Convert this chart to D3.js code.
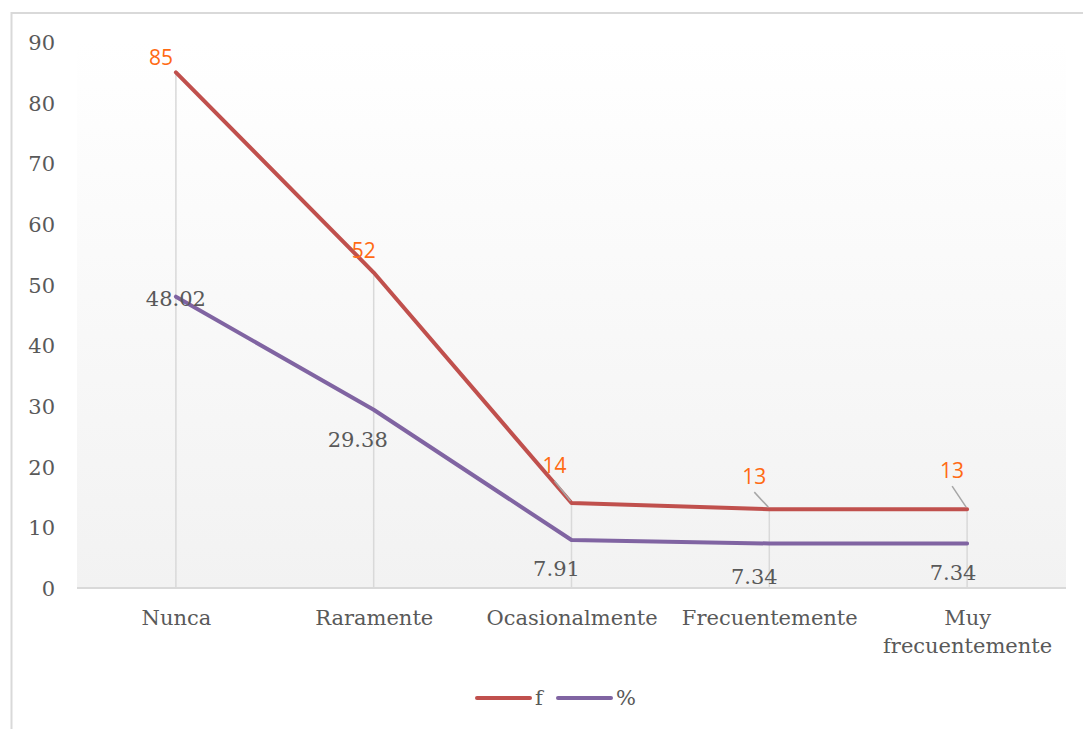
<!DOCTYPE html>
<html>
<head>
<meta charset="utf-8">
<script src="https://cdn.jsdelivr.net/npm/d3@7"></script>
<style>
html,body{margin:0;padding:0;background:#fff;}
svg{display:block;}
</style>
</head>
<body>
<svg id="chart" width="1083" height="729"></svg>
<script>
// ---- data ----
const categories = ["Nunca", "Raramente", "Ocasionalmente", "Frecuentemente", "Muy frecuentemente"];
const fValues = [85, 52, 14, 13, 13];
const pctValues = [48.02, 29.38, 7.91, 7.34, 7.34];
const yTicks = [0, 10, 20, 30, 40, 50, 60, 70, 80, 90];
const seriesNames = ["f", "%"];

// ---- layout (label offsets from point, in px) ----
const fLabelOffsets = [[-15, -15], [-10, -22], [-17, -37], [-15, -32], [-15, -38]];
const fLeader = [false, false, true, true, true];
const pctLabelOffsets = [[0, 2], [-16, 30], [-15, 29], [-15, 33], [-14, 29]];

const svg = d3.select("#chart");
const W = 1083, H = 729;
const plot = {left: 77, right: 1066, top: 42, bottom: 588};

const defs = svg.append("defs");
const grad = defs.append("linearGradient").attr("id", "bg").attr("x1", 0).attr("y1", 0).attr("x2", 0).attr("y2", 1);
grad.append("stop").attr("offset", "0%").attr("stop-color", "#ffffff");
grad.append("stop").attr("offset", "100%").attr("stop-color", "#f2f2f2");

// chart border
svg.append("rect").attr("x", 11.5).attr("y", 13).attr("width", W + 20).attr("height", H + 20)
  .attr("fill", "#fff").attr("stroke", "#d9d9d9").attr("stroke-width", 2);

// plot background
svg.append("rect").attr("x", plot.left).attr("y", plot.top)
  .attr("width", plot.right - plot.left).attr("height", plot.bottom - plot.top)
  .attr("fill", "url(#bg)");

const x = d3.scalePoint().domain(categories).range([plot.left, plot.right]).padding(0.5);
const y = d3.scaleLinear().domain([0, 90]).range([plot.bottom, plot.top]);

const serif = "'DejaVu Serif', serif";
const sans = "'Open Sans', sans-serif";
const textColor = "#595959";

// y axis labels
const yAxis = d3.axisLeft(y).tickValues(yTicks).tickSize(0).tickPadding(0);
const yG = svg.append("g").attr("transform", "translate(55,0)").call(yAxis);
yG.select(".domain").remove();
yG.selectAll("text").attr("font-family", serif).attr("font-size", 21).attr("fill", textColor)
  .attr("dy", "0.35em");

// drop lines
svg.append("g").selectAll("line").data(categories).join("line")
  .attr("x1", d => x(d)).attr("x2", d => x(d))
  .attr("y1", (d, i) => y(Math.max(fValues[i], pctValues[i])))
  .attr("y2", plot.bottom)
  .attr("stroke", "#d9d9d9").attr("stroke-width", 1.5);

// x axis line
const xAxis = d3.axisBottom(x).tickSize(0).tickPadding(0);
const xG = svg.append("g").attr("transform", `translate(0,${plot.bottom})`).call(xAxis);
xG.select(".domain").attr("stroke", "#d9d9d9").attr("stroke-width", 2)
  .attr("d", `M${plot.left},0H${plot.right}`);
xG.selectAll("text").remove();
xG.selectAll(".tick").each(function(d) {
  const g = d3.select(this);
  const words = d === "Muy frecuentemente" ? ["Muy", "frecuentemente"] : [d];
  words.forEach((w, k) => {
    g.append("text").text(w).attr("x", 0).attr("y", 30 + k * 28).attr("dy", "0.35em")
      .attr("text-anchor", "middle").attr("font-family", serif).attr("font-size", 21)
      .attr("fill", textColor);
  });
});

// lines
const line = d3.line().x((d, i) => x(categories[i])).y(d => y(d));
svg.append("path").datum(pctValues).attr("d", line).attr("fill", "none")
  .attr("stroke", "#8064a2").attr("stroke-width", 4).attr("stroke-linecap", "round").attr("stroke-linejoin", "round");
svg.append("path").datum(fValues).attr("d", line).attr("fill", "none")
  .attr("stroke", "#c0504d").attr("stroke-width", 4).attr("stroke-linecap", "round").attr("stroke-linejoin", "round");

// leader lines for f labels
fValues.forEach((v, i) => {
  if (!fLeader[i]) return;
  const px = x(categories[i]), py = y(v);
  const lx = px + fLabelOffsets[i][0], ly = py + fLabelOffsets[i][1] + 15;
  svg.append("line").attr("x1", lx).attr("y1", ly).attr("x2", px - 1).attr("y2", py - 2)
    .attr("stroke", "#a6a6a6").attr("stroke-width", 1.5);
});

// f labels
svg.append("g").selectAll("text").data(fValues).join("text")
  .attr("x", (d, i) => x(categories[i]) + fLabelOffsets[i][0])
  .attr("y", (d, i) => y(d) + fLabelOffsets[i][1])
  .attr("dy", "0.35em").attr("text-anchor", "middle")
  .attr("font-family", sans).attr("font-size", 21).attr("fill", "#ff6a13")
  .text(d => d);

// % labels
svg.append("g").selectAll("text").data(pctValues).join("text")
  .attr("x", (d, i) => x(categories[i]) + pctLabelOffsets[i][0])
  .attr("y", (d, i) => y(d) + pctLabelOffsets[i][1])
  .attr("dy", "0.35em").attr("text-anchor", "middle")
  .attr("font-family", serif).attr("font-size", 21).attr("fill", textColor)
  .text(d => d.toFixed(2));

// legend
const legendColors = ["#c0504d", "#8064a2"];
const legend = svg.append("g");
const legendX = [477, 558];
seriesNames.forEach((name, i) => {
  legend.append("line").attr("x1", legendX[i]).attr("x2", legendX[i] + 53)
    .attr("y1", 698).attr("y2", 698).attr("stroke", legendColors[i]).attr("stroke-width", 4)
    .attr("stroke-linecap", "round");
  legend.append("text").attr("x", legendX[i] + 58).attr("y", 698).attr("dy", "0.35em")
    .attr("font-family", serif).attr("font-size", 21).attr("fill", textColor).text(name);
});
</script>
</body>
</html>
